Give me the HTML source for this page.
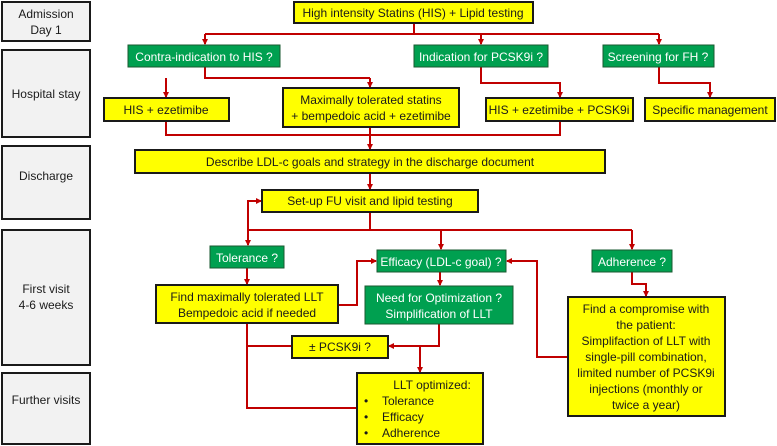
<!DOCTYPE html>
<html><head><meta charset="utf-8"><style>
html,body{margin:0;padding:0;background:#fff;}
svg{display:block;}
text{font-family:"Liberation Sans",sans-serif;font-size:12px;}
.g{fill:#fff;}
.k{fill:#1a1a1a;}
</style></head><body>
<svg width="777" height="446" viewBox="0 0 777 446" xmlns="http://www.w3.org/2000/svg">
<defs>
<marker id="a" markerWidth="6" markerHeight="6" refX="5" refY="3" orient="auto" markerUnits="userSpaceOnUse">
<path d="M0,0 L6,3 L0,6 z" fill="#c00000"/></marker>
</defs>
<!-- left column -->
<g fill="#f2f2f2" stroke="#1a1a1a" stroke-width="2">
<rect x="2" y="2" width="88" height="39"/>
<rect x="2" y="50" width="88" height="87"/>
<rect x="2" y="146" width="88" height="73"/>
<rect x="2" y="230" width="88" height="135"/>
<rect x="2" y="373" width="88" height="71"/>
</g>
<g class="k" text-anchor="middle">
<text x="46" y="18">Admission</text><text x="46" y="34">Day 1</text>
<text x="46" y="98">Hospital stay</text>
<text x="46" y="180">Discharge</text>
<text x="46" y="293">First visit</text><text x="46" y="309">4-6 weeks</text>
<text x="46" y="404">Further visits</text>
</g>
<!-- connectors -->
<g fill="none" stroke="#c00000" stroke-width="2">
<path d="M414,23 V34"/>
<path d="M205,34 H659"/>
<path d="M205,34 V44" marker-end="url(#a)"/>
<path d="M481,34 V44" marker-end="url(#a)"/>
<path d="M659,34 V44" marker-end="url(#a)"/>
<path d="M205,67 V78 H370"/>
<path d="M166,78 V97" marker-end="url(#a)"/>
<path d="M370,78 V87" marker-end="url(#a)"/>
<path d="M481,67 V83 H560 V97" marker-end="url(#a)"/>
<path d="M659,67 V83 H710 V97" marker-end="url(#a)"/>
<path d="M166,121 V135 H560 V121"/>
<path d="M370,127 V149" marker-end="url(#a)"/>
<path d="M370,173 V189" marker-end="url(#a)"/>
<path d="M370,212 V230 H632"/>
<path d="M370,230 H248"/>
<path d="M248,230 V201 H261" marker-end="url(#a)"/>
<path d="M248,230 V245" marker-end="url(#a)"/>
<path d="M441,230 V249" marker-end="url(#a)"/>
<path d="M632,230 V249" marker-end="url(#a)"/>
<path d="M247,268 V284" marker-end="url(#a)"/>
<path d="M338,305 H357 V261 H376" marker-end="url(#a)"/>
<path d="M440,272 V285" marker-end="url(#a)"/>
<path d="M632,272 V284 H646 V296" marker-end="url(#a)"/>
<path d="M568,357 H537 V261 H507" marker-end="url(#a)"/>
<path d="M439,324 V346 H389" marker-end="url(#a)"/>
<path d="M420,346 V372" marker-end="url(#a)"/>
<path d="M247,323 V408 H357"/>
<path d="M247,346 H292"/>
</g>
<!-- yellow boxes -->
<g fill="#ffff00" stroke="#1a1a1a" stroke-width="2">
<rect x="294" y="2" width="239" height="21"/>
<rect x="104" y="98" width="125" height="23"/>
<rect x="283" y="88" width="176" height="39"/>
<rect x="486" y="98" width="147" height="23"/>
<rect x="645" y="98" width="130" height="23"/>
<rect x="135" y="150" width="470" height="23"/>
<rect x="262" y="190" width="216" height="22"/>
<rect x="156" y="285" width="182" height="38"/>
<rect x="292" y="336" width="96" height="22"/>
<rect x="357" y="373" width="126" height="71"/>
<rect x="568" y="297" width="157" height="119"/>
</g>
<!-- green boxes -->
<g fill="#00a050" stroke="#1a5a30" stroke-width="1">
<rect x="128" y="45" width="152" height="22"/>
<rect x="414" y="45" width="134" height="22"/>
<rect x="603" y="45" width="111" height="22"/>
<rect x="210" y="246" width="74" height="22"/>
<rect x="377" y="250" width="129" height="22"/>
<rect x="365" y="286" width="148" height="38"/>
<rect x="592" y="250" width="80" height="22"/>
</g>
<g class="k" text-anchor="middle">
<text x="413" y="17">High intensity Statins (HIS) + Lipid testing</text>
<text x="166" y="114">HIS + ezetimibe</text>
<text x="371" y="104">Maximally tolerated statins</text>
<text x="371" y="120">+ bempedoic acid + ezetimibe</text>
<text x="559" y="114">HIS + ezetimibe + PCSK9i</text>
<text x="710" y="114">Specific management</text>
<text x="370" y="166">Describe LDL-c goals and strategy in the discharge document</text>
<text x="370" y="205">Set-up FU visit and lipid testing</text>
<text x="247" y="301">Find maximally tolerated  LLT</text>
<text x="247" y="317">Bempedoic acid  if needed</text>
<text x="340" y="351">± PCSK9i ?</text>
<text x="432" y="389">LLT optimized:</text>
<text x="646" y="313">Find a compromise with</text>
<text x="646" y="329">the patient:</text>
<text x="646" y="345">Simplifaction of LLT with</text>
<text x="646" y="361">single-pill combination,</text>
<text x="646" y="377">limited number of PCSK9i</text>
<text x="646" y="393">injections (monthly or</text>
<text x="646" y="409">twice a year)</text>
</g>
<g class="k">
<text x="364" y="405">•</text><text x="382" y="405">Tolerance</text>
<text x="364" y="421">•</text><text x="382" y="421">Efficacy</text>
<text x="364" y="437">•</text><text x="382" y="437">Adherence</text>
</g>
<g class="g" text-anchor="middle">
<text x="204" y="61">Contra-indication to HIS ?</text>
<text x="481" y="61">Indication for PCSK9i ?</text>
<text x="658" y="61">Screening for FH ?</text>
<text x="247" y="262">Tolerance ?</text>
<text x="441" y="266">Efficacy (LDL-c goal) ?</text>
<text x="439" y="302">Need for Optimization ?</text>
<text x="439" y="318">Simplification of LLT</text>
<text x="632" y="266">Adherence ?</text>
</g>
</svg>
</body></html>
